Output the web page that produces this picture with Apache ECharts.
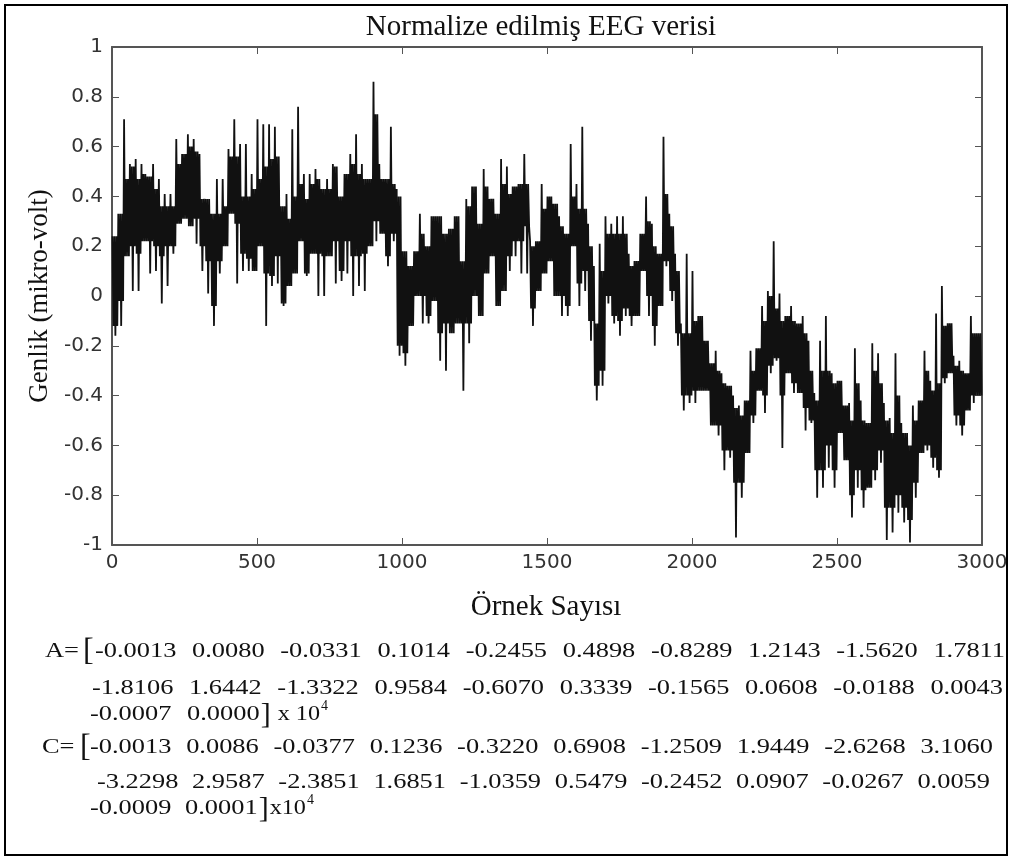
<!DOCTYPE html>
<html>
<head>
<meta charset="utf-8">
<script src="https://cdn.jsdelivr.net/npm/echarts@6/dist/echarts.min.js"></script>
<style>
html,body{margin:0;padding:0;background:#fff;}
#chart{width:1013px;height:860px;}
</style>
</head>
<body>
<div id="chart"></div>
<script>
// ---- data ----
const titleText = 'Normalize edilmiş EEG verisi';
const xAxisTitle = 'Örnek Sayısı';
const yAxisTitle = 'Genlik (mikro-volt)';
const blockSize = 20; // samples per block
// highest spike in each 20-sample block
const upperEnvelope = [
 0.24,0.33,0.71,0.53,0.55,0.53,0.48,0.53,0.47,0.41,
 0.41,0.63,0.57,0.65,0.63,0.57,0.39,0.33,0.47,0.47,
 0.59,0.71,0.61,0.61,0.49,0.71,0.69,0.69,0.68,0.36,
 0.41,0.67,0.76,0.49,0.49,0.51,0.43,0.47,0.53,0.40,
 0.49,0.57,0.65,0.53,0.47,0.86,0.53,0.47,0.68,0.43,
 0.18,0.12,0.18,0.33,0.20,0.32,0.32,0.25,0.27,0.32,
 0.14,0.39,0.44,0.29,0.51,0.39,0.33,0.55,0.52,0.44,
 0.45,0.57,0.22,0.22,0.45,0.40,0.37,0.32,0.25,0.61,
 0.45,0.68,0.29,0.12,0.21,0.32,0.29,0.32,0.32,0.17,
 0.14,0.25,0.40,0.29,0.17,0.64,0.33,0.17,-0.11,0.17,
 0.10,-0.08,-0.18,-0.27,-0.22,-0.31,-0.36,-0.40,-0.44,-0.42,
 -0.22,-0.21,-0.04,0.02,0.22,0.01,-0.08,-0.04,-0.11,-0.08,
 -0.18,-0.39,-0.18,-0.08,-0.31,-0.34,-0.44,-0.43,-0.21,-0.42,
 -0.51,-0.19,-0.23,-0.43,-0.49,-0.23,-0.51,-0.55,-0.44,-0.42,
 -0.22,-0.34,-0.07,0.04,-0.11,-0.24,-0.26,-0.31,-0.08,-0.15
];
// lowest spike in each 20-sample block
const lowerEnvelope = [
 -0.16,-0.12,0.16,0.02,0.02,0.22,0.09,0.10,-0.03,0.04,
 0.17,0.29,0.31,0.28,0.21,0.10,0.01,-0.12,0.09,0.20,
 0.33,0.05,0.10,0.10,0.10,0.20,-0.12,0.04,0.05,-0.04,
 0.04,0.09,0.22,0.08,0.17,0.00,0.00,0.16,0.05,0.06,
 0.09,0.00,0.04,0.02,0.20,0.22,0.25,0.12,0.22,-0.24,
 -0.28,-0.12,0.00,-0.11,-0.11,-0.02,-0.26,-0.30,-0.15,-0.11,
 -0.38,-0.19,0.00,-0.08,0.09,0.16,-0.04,0.02,0.10,0.16,
 0.09,0.09,-0.12,0.02,0.09,0.14,0.00,-0.08,-0.08,0.20,
 -0.04,0.02,-0.18,-0.42,-0.36,-0.03,-0.11,-0.16,-0.08,-0.12,
 -0.08,0.10,-0.08,-0.20,-0.04,0.12,-0.02,-0.20,-0.46,-0.43,
 -0.43,-0.38,-0.38,-0.52,-0.56,-0.70,-0.65,-0.97,-0.81,-0.63,
 -0.51,-0.38,-0.47,-0.31,-0.26,-0.61,-0.31,-0.39,-0.39,-0.54,
 -0.51,-0.81,-0.77,-0.69,-0.77,-0.55,-0.66,-0.89,-0.77,-0.85,
 -0.77,-0.74,-0.67,-0.98,-0.95,-0.87,-0.91,-0.99,-0.81,-0.63,
 -0.62,-0.69,-0.73,-0.35,-0.31,-0.52,-0.56,-0.46,-0.43,-0.40
];
// top edge of the dense black core in each block
const coreUpper = [
 0.24,0.33,0.47,0.52,0.47,0.49,0.48,0.43,0.36,0.36,
 0.36,0.53,0.57,0.60,0.58,0.39,0.39,0.33,0.33,0.36,
 0.56,0.56,0.40,0.40,0.43,0.47,0.52,0.55,0.56,0.36,
 0.31,0.40,0.45,0.39,0.45,0.47,0.43,0.43,0.52,0.40,
 0.49,0.53,0.49,0.47,0.47,0.73,0.47,0.47,0.45,0.40,
 0.18,0.12,0.18,0.25,0.20,0.32,0.32,0.25,0.27,0.32,
 0.14,0.36,0.44,0.29,0.44,0.39,0.33,0.45,0.41,0.44,
 0.45,0.45,0.20,0.22,0.35,0.40,0.37,0.28,0.25,0.40,
 0.35,0.35,0.20,-0.11,0.10,0.25,0.25,0.25,0.25,0.12,
 0.14,0.25,0.30,0.20,0.17,0.41,0.28,0.10,-0.15,-0.15,
 -0.10,-0.08,-0.18,-0.27,-0.30,-0.35,-0.36,-0.45,-0.48,-0.42,
 -0.30,-0.21,-0.10,0.00,-0.05,-0.10,-0.08,-0.10,-0.11,-0.15,
 -0.30,-0.42,-0.30,-0.30,-0.35,-0.34,-0.44,-0.50,-0.35,-0.50,
 -0.51,-0.30,-0.35,-0.50,-0.55,-0.40,-0.55,-0.60,-0.50,-0.42,
 -0.30,-0.38,-0.35,-0.12,-0.11,-0.28,-0.30,-0.31,-0.15,-0.15
];
// bottom edge of the dense black core in each block
const coreLower = [
 -0.12,-0.02,0.16,0.20,0.17,0.22,0.22,0.20,0.16,0.20,
 0.20,0.29,0.31,0.28,0.31,0.20,0.14,-0.04,0.14,0.20,
 0.33,0.29,0.17,0.15,0.10,0.20,0.09,0.08,0.16,-0.03,
 0.04,0.09,0.22,0.09,0.17,0.17,0.16,0.16,0.22,0.10,
 0.22,0.16,0.16,0.17,0.20,0.30,0.25,0.16,0.25,-0.20,
 -0.23,-0.12,0.00,0.00,-0.08,-0.02,-0.15,-0.11,-0.15,-0.11,
 -0.11,-0.11,0.00,-0.08,0.09,0.16,-0.04,0.02,0.16,0.22,
 0.22,0.28,-0.05,0.02,0.09,0.14,0.00,0.00,-0.04,0.20,
 0.05,0.10,-0.10,-0.36,-0.30,0.00,-0.08,-0.10,-0.05,-0.08,
 -0.08,0.10,0.00,-0.12,-0.04,0.14,0.02,-0.15,-0.40,-0.40,
 -0.38,-0.38,-0.38,-0.52,-0.52,-0.62,-0.62,-0.75,-0.75,-0.63,
 -0.48,-0.38,-0.40,-0.28,-0.25,-0.40,-0.31,-0.35,-0.39,-0.45,
 -0.50,-0.70,-0.70,-0.60,-0.70,-0.55,-0.66,-0.80,-0.70,-0.78,
 -0.77,-0.70,-0.62,-0.85,-0.85,-0.80,-0.85,-0.90,-0.75,-0.63,
 -0.60,-0.65,-0.70,-0.33,-0.31,-0.48,-0.52,-0.46,-0.40,-0.40
];
const coefA = ['-0.0013','0.0080','-0.0331','0.1014','-0.2455','0.4898','-0.8289','1.2143','-1.5620','1.7811',
 '-1.8106','1.6442','-1.3322','0.9584','-0.6070','0.3339','-0.1565','0.0608','-0.0188','0.0043',
 '-0.0007','0.0000'];
const coefC = ['-0.0013','0.0086','-0.0377','0.1236','-0.3220','0.6908','-1.2509','1.9449','-2.6268','3.1060',
 '-3.2298','2.9587','-2.3851','1.6851','-1.0359','0.5479','-0.2452','0.0907','-0.0267','0.0059',
 '-0.0009','0.0001'];

// ---- series data: within each block the trace swings through spike and core extents ----
const trace = [];
for (let k = 0; k < upperEnvelope.length; k++) {
  const seq = [upperEnvelope[k], coreLower[k], coreUpper[k], lowerEnvelope[k], coreUpper[k], coreLower[k]];
  seq.forEach((v, j) => trace.push([k * blockSize + (j + 0.5) * blockSize / seq.length, v]));
}

const serif = '"Liberation Serif", "Times New Roman", serif';
const cv = document.createElement('canvas').getContext('2d');
function textW(t, size) { cv.font = size + 'px "Liberation Serif"'; return cv.measureText(t).width; }

const numSize = 22, numScale = 1.2;
const graphics = [];
graphics.push({type:'rect', shape:{x:5,y:5,width:1002,height:850}, style:{fill:'none', stroke:'#000', lineWidth:2}, silent:true});
graphics.push({type:'text', x:541, y:27, style:{text:titleText, fontFamily:serif, fontSize:29, fill:'#111', align:'center', verticalAlign:'middle'}});
graphics.push({type:'text', x:546, y:607, style:{text:xAxisTitle, fontFamily:serif, fontSize:29, fill:'#111', align:'center', verticalAlign:'middle'}});
graphics.push({type:'text', x:40, y:296, rotation:Math.PI/2, style:{text:yAxisTitle, fontFamily:serif, fontSize:27, fill:'#111', align:'center', verticalAlign:'middle'}});

function txt(t, x, y, size, sx) {
  graphics.push({type:'text', x:x, y:y, scaleX:sx || 1, style:{text:t, fontFamily:serif, fontSize:size, fill:'#111', align:'left', verticalAlign:'middle'}});
}
function placeBlock(label, coef, rows, tail) {
  const chunks = [coef.slice(0,10), coef.slice(10,20), coef.slice(20)];
  let gap = 15;
  txt(label.text, label.x, rows[0].y, numSize, numScale);
  txt('[', label.bx, rows[0].y + 1, 32, 1);
  chunks.forEach((items, i) => {
    const r = rows[i];
    const widths = items.map(t => textW(t, numSize) * numScale);
    const sum = widths.reduce((a,b)=>a+b,0);
    if (r.end) gap = (r.end - r.start - sum) / (items.length - 1);
    let x = r.start;
    items.forEach((t, j) => { txt(t, x, r.y, numSize, numScale); x += widths[j] + (j < items.length-1 ? gap : 0); });
    if (i === 2) {
      txt(']', x + 1, r.y + 1, 30, 1);
      x += 12 + r.tailGap;
      txt(tail, x, r.y, numSize, 1.1);
      x += textW(tail, numSize) * 1.1 + 1;
      txt('4', x, r.y - 8, 14, 1);
    }
  });
}
placeBlock({text:'A=', x:45, bx:83}, coefA, [
  {y:651, start:95, end:1005}, {y:688, start:92, end:1003}, {y:714, start:90, tailGap:6}], 'x 10');
placeBlock({text:'C=', x:42, bx:80}, coefC, [
  {y:747, start:90, end:993}, {y:782, start:97, end:990}, {y:808, start:90, tailGap:0}], 'x10');

const axisCol = '#555';
function axisCommon(extra) {
  return Object.assign({
    axisLine:{show:true, onZero:false, lineStyle:{color:axisCol, width:2}},
    axisTick:{show:true, inside:true, length:7, lineStyle:{color:axisCol, width:1}},
    splitLine:{show:false}
  }, extra);
}
const chart = echarts.init(document.getElementById('chart'), null, {renderer:'canvas'});
chart.setOption({
  animation:false,
  backgroundColor:'#fff',
  grid:{left:112, right:31, top:47, bottom:315},
  xAxis:[
    axisCommon({type:'value', min:0, max:3000, interval:500,
     axisLabel:{fontFamily:'"DejaVu Sans"', fontSize:20, color:'#333', margin:8, formatter:v => String(v)}}),
    axisCommon({type:'value', position:'top', min:0, max:3000, interval:500, axisLabel:{show:false}})
  ],
  yAxis:[
    axisCommon({type:'value', min:-1, max:1, interval:0.2,
     axisLabel:{fontFamily:'"DejaVu Sans"', fontSize:20, color:'#333', margin:9, formatter:v => String(Math.round(v*10)/10)}}),
    axisCommon({type:'value', position:'right', min:-1, max:1, interval:0.2, axisLabel:{show:false}})
  ],
  series:[{type:'line', data:trace, xAxisIndex:0, yAxisIndex:0, showSymbol:false, symbol:'none',
    lineStyle:{color:'#111', width:1.8}, silent:true, clip:true}],
  graphic:graphics
});
</script>
</body>
</html>
